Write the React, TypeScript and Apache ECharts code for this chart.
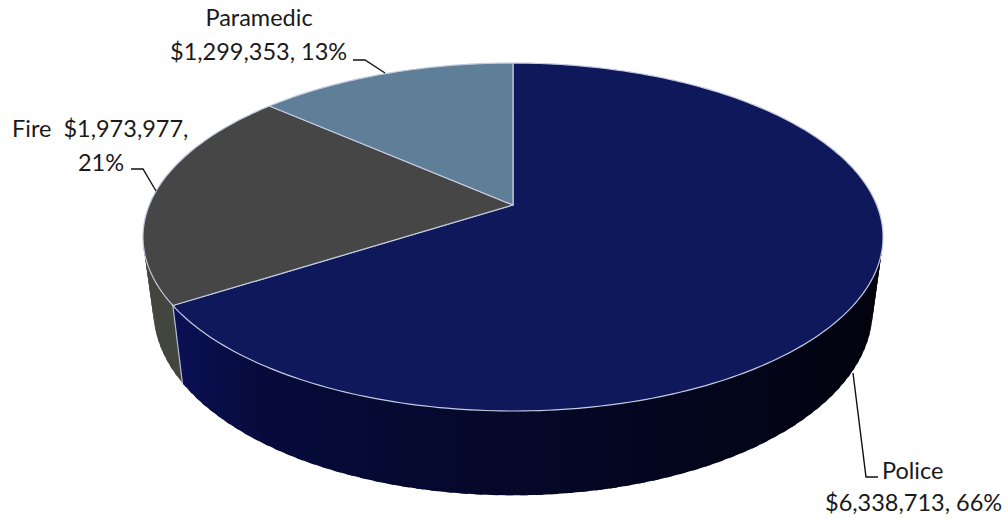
import React, { useEffect, useRef } from "react";
import * as echarts from "echarts";

// Budget by department
const departments = ["Police", "Fire", "Paramedic"];
const amounts = [6338713, 1973977, 1299353];
const shareLabels = ["66%", "21%", "13%"];

const topColors = ["#0e185b", "#474646", "#5f7e97"];
const sideColors: any[] = [
  {
    type: "linear", x: 173, y: 0, x2: 883, y2: 0, global: true,
    colorStops: [
      { offset: 0, color: "#0a1055" },
      { offset: 0.12, color: "#070b3c" },
      { offset: 0.45, color: "#05082a" },
      { offset: 0.8, color: "#03051a" },
      { offset: 1, color: "#01020c" },
    ],
  },
  "#43463f",
  "#3f5566",
];

// Projection of the tilted disc: the apex sits above the centre of the rim ellipse.
const APEX_X = 513;
const TILT = -0.184;
const top = { y: 205, a: 363.7, b: 168.1 };
const base = { y: 276, a: 353.5, b: 179 };

const project = (deg: number, disc: { y: number; a: number; b: number }) => {
  const r = (deg * Math.PI) / 180;
  const u = Math.sin(r);
  const v = -Math.cos(r);
  const w = 1 + TILT * v;
  return [APEX_X + (disc.a * u) / w, disc.y + (disc.b * v) / w];
};

const arc = (from: number, to: number, disc: typeof top) => {
  const pts: number[][] = [];
  const steps = Math.max(2, Math.ceil(Math.abs(to - from)));
  for (let i = 0; i <= steps; i++) pts.push(project(from + ((to - from) * i) / steps, disc));
  return pts;
};

const fmt = (n: number) => "$" + n.toLocaleString("en-US");
const total = amounts.reduce((s, n) => s + n, 0);

const FONT = '23.5px Lato, "Open Sans", sans-serif';
const INK = "#1a1a1a";

const text = (str: string, x: number, y: number, align: string) => ({
  type: "text",
  silent: true,
  style: { text: str, x, y, font: FONT, fill: INK, textAlign: align, textVerticalAlign: "middle" },
});

const leader = (points: number[][]) => ({
  type: "polyline",
  silent: true,
  shape: { points },
  style: { stroke: "#111", lineWidth: 1.4, fill: "none" },
});

// Callouts for each department, in the order of the data.
const callouts = [
  (name: string, money: string, pct: string) => [
    text(name, 882, 470, "left"),
    text(money + ", " + pct, 825, 502, "left"),
    leader([[853, 373], [866, 477], [878, 477]]),
  ],
  (name: string, money: string, pct: string) => [
    text(name + "\u00a0\u00a0" + money + ",", 12, 128, "left"),
    text(pct, 101, 162, "center"),
    leader([[131, 169], [143, 169], [156, 191]]),
  ],
  (name: string, money: string, pct: string) => [
    text(name, 259, 17, "center"),
    text(money + ", " + pct, 170, 51, "left"),
    leader([[353, 60], [365, 60], [385, 73]]),
  ],
];

const sliceSpan = (i: number, value: number) => {
  const before = amounts.slice(0, i).reduce((s, n) => s + n, 0);
  const start = (before / total) * 360;
  return [start, start + (value / total) * 360];
};

export default function App() {
  const ref = useRef<HTMLDivElement>(null);

  useEffect(() => {
    document.body.style.margin = "0";
    const chart = echarts.init(ref.current!, undefined, { renderer: "svg" });

    // The wall only shows along the front of the disc; it is swept in overlapping
    // strips so the outline follows the straight edge between rim and base.
    const renderWall = (params: any, api: any) => {
      const i = params.dataIndex;
      const [start, end] = sliceSpan(i, api.value(0));
      const from = Math.max(start, 60);
      const to = Math.min(end, 300);
      const children: any[] = [];
      for (let d = from; d < to; d += 2) {
        const next = Math.min(d + 3, to);
        children.push({
          type: "polygon",
          silent: true,
          shape: { points: [project(d, top), project(next, top), project(next, base), project(d, base)] },
          style: { fill: sideColors[i], stroke: "none" },
        });
      }
      return { type: "group", children };
    };

    const renderTop = (params: any, api: any) => {
      const i = params.dataIndex;
      const [start, end] = sliceSpan(i, api.value(0));
      const children: any[] = [
        {
          type: "polygon",
          shape: { points: [[APEX_X, top.y], ...arc(start, end, top)] },
          style: { fill: topColors[i], stroke: "#c3cade", lineWidth: 1.2, lineJoin: "round" },
        },
      ];
      children.push(...callouts[i](departments[i], fmt(api.value(0)), shareLabels[i]));
      return { type: "group", children };
    };

    // Seam where two walls meet.
    const renderSeam = (params: any, api: any) => {
      const [at] = sliceSpan(params.dataIndex, api.value(0));
      if (at < 60 || at > 300) return { type: "group", children: [] };
      const a = project(at, top);
      const b = project(at, base);
      return {
        type: "line",
        shape: { x1: a[0], y1: a[1], x2: b[0], y2: b[1] },
        style: { stroke: "#b4bbcf", lineWidth: 1.2 },
      };
    };

    const data = amounts.map((n) => [n]);
    chart.setOption({
      animation: false,
      backgroundColor: "#ffffff",
      series: [
        { type: "custom", coordinateSystem: "none", renderItem: renderWall, data, silent: true, clip: false },
        { type: "custom", coordinateSystem: "none", renderItem: renderSeam, data, silent: true, clip: false },
        { type: "custom", coordinateSystem: "none", renderItem: renderTop, data, silent: true, clip: false },
      ],
    });
    return () => chart.dispose();
  }, []);

  return <div ref={ref} style={{ width: 1008, height: 518 }} />;
}
